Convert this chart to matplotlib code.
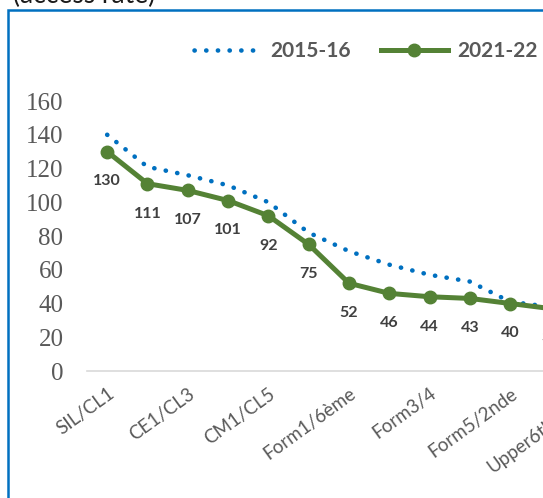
import matplotlib
matplotlib.use("Agg")
import matplotlib.pyplot as plt
from matplotlib.patches import Rectangle

# Grade levels (every second one is labelled on the axis)
levels = ["SIL/CL1", "CP/CL2", "CE1/CL3", "CE2/CL4", "CM1/CL5", "CM2/CL6",
          "Form1/6ème", "Form2/5ème", "Form3/4", "Form4/3ème", "Form5/2nde",
          "Lower6th/1ère", "Upper6th/Term"]
rate_2015_16 = [140, 121, 116, 110, 100, 82, 71, 63, 57, 53, 41, 38, 36]
rate_2021_22 = [130, 111, 107, 101, 92, 75, 52, 46, 44, 43, 40, 37, 35]
series_names = ["2015-16", "2021-22"]
yticks = [0, 20, 40, 60, 80, 100, 120, 140, 160]

W, H, DPI = 543, 498, 100
fig = plt.figure(figsize=(W / DPI, H / DPI), dpi=DPI)
fig.patch.set_facecolor("white")

# Plot area runs past the right edge of the canvas
ax = fig.add_axes([87 / W, 1 - 371 / H, (611 - 87) / W, (371 - 101) / H])
x = list(range(len(levels)))

blue = "#0070C0"
green = "#548235"

l1, = ax.plot(x, rate_2015_16, color=blue, lw=3.3, linestyle=(0, (0.05, 2.5)),
              dash_capstyle="round", label=series_names[0], clip_on=False)
l2, = ax.plot(x, rate_2021_22, color=green, lw=3.6, marker="o", markersize=9,
              label=series_names[1], clip_on=False, zorder=3)

for xi, v in zip(x, rate_2021_22):
    ax.annotate(f"{v}", (xi, v), xytext=(0, -21.5), textcoords="offset points",
                ha="center", va="center", fontsize=11.5, fontweight="bold",
                family="Lato", color="#404040")

ax.set_xlim(-0.5, len(levels) - 0.5)
ax.set_ylim(0, 160)
ax.set_yticks(yticks)
ax.set_yticklabels([str(t) for t in yticks], family="Liberation Serif",
                   fontsize=18, color="#595959")
ax.set_xticks(x[::2])
ax.set_xticklabels(levels[::2], rotation=36, ha="right", va="top",
                   rotation_mode="anchor", family="Lato", fontsize=13.5,
                   color="#595959")
ax.tick_params(axis="y", length=0, pad=17)
ax.tick_params(axis="x", length=0, pad=10)
for s in ["left", "right", "top"]:
    ax.spines[s].set_visible(False)
ax.spines["bottom"].set_color("#D9D9D9")
ax.spines["bottom"].set_linewidth(1.2)
ax.set_facecolor("none")

leg = ax.legend(handles=[l1, l2], loc="center left",
                bbox_to_anchor=(194 / W, 1 - 51 / H), bbox_transform=fig.transFigure,
                ncol=2, frameon=False, borderpad=0, borderaxespad=0,
                handlelength=3.2, handletextpad=0.45, columnspacing=1.45,
                prop={"family": "Lato", "weight": "bold", "size": 15})
for t in leg.get_texts():
    t.set_color("#595959")

# Chart frame
fig.add_artist(Rectangle((7.5 / W, -0.1), 1.2, 1.1 - 10.5 / H, transform=fig.transFigure,
                         fill=False, edgecolor=blue, lw=1.8))

fig.text(13 / W, 1 - 3 / H, "(access rate)", ha="left", va="baseline",
         fontsize=19, family="Lato", color="#1a1a1a")

fig.savefig("out.png", dpi=DPI, facecolor="white")
